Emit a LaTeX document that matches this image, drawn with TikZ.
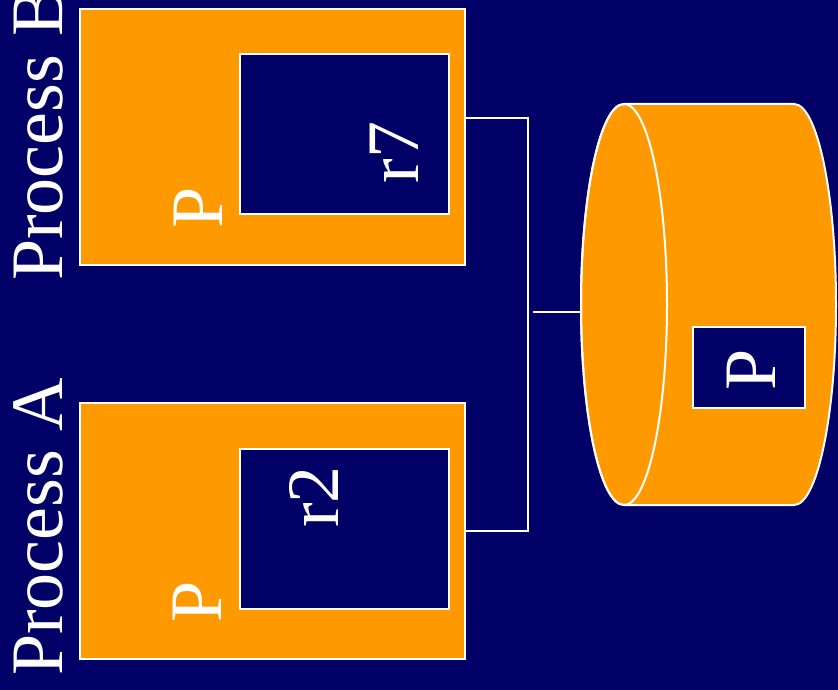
\documentclass[tikz,border=0pt]{standalone}
\usepackage{fontspec}
\setmainfont{Liberation Serif}
\definecolor{navy}{HTML}{000066}
\definecolor{amber}{HTML}{FF9900}
\begin{document}
\begin{tikzpicture}[x=1pt,y=-1pt,
  proc/.style={draw=white, fill=amber, line width=2pt, inner sep=0pt, outer sep=0pt},
  reg/.style={draw=white, fill=navy, line width=2pt, inner sep=0pt, outer sep=0pt},
  lbl/.style={text=white, font=\fontsize{74}{80}\selectfont, inner sep=0pt, rotate=90},
  wire/.style={draw=white, line width=2pt}
]
% backdrop
\fill[navy] (0,0) rectangle (838,690);
\useasboundingbox (0,0) rectangle (838,690);

% process boxes with their register boxes
\node[proc, minimum width=385pt, minimum height=256pt] (boxB) at (272.5,137) {};
\node[reg,  minimum width=209pt, minimum height=160pt] (regB) at (344.5,134) {};
\node[proc, minimum width=385pt, minimum height=256pt] (boxA) at (272.5,531) {};
\node[reg,  minimum width=209pt, minimum height=160pt] (regA) at (344.5,529) {};

% storage drum
\filldraw[draw=white, fill=amber, line width=2pt]
  (624,104) -- (794,104)
  arc[start angle=270, end angle=450, x radius=42, y radius=200.5]
  -- (624,505)
  arc[start angle=90, end angle=270, x radius=43, y radius=200.5] -- cycle;
\draw[white, line width=2pt] (624,304.5) ellipse [x radius=43, y radius=200.5];
\coordinate (drum) at (581,312);
\node[reg, minimum width=112pt, minimum height=81pt] (regD) at (749,367.5) {};

% labels
\node[lbl, anchor=base west] (titleB) at (62,281) {Process B};
\node[lbl, anchor=base west] (titleA) at (62,676) {Process A};
\node[lbl, anchor=base] (pB) at (222,208) {P};
\node[lbl, anchor=base] (rB) at (418,152.5) {r7};
\node[lbl, anchor=base] (pA) at (221,602) {P};
\node[lbl, anchor=base] (rA) at (338,497) {r2};
\node[lbl, anchor=base] (pD) at (775,370) {P};

% connectors
\draw[wire] ([yshift=19pt]boxB.east) -- ++(63,0) |- (boxA.east);
\coordinate (tap) at (533,312);
\draw[wire] (tap) -- (drum);
\end{tikzpicture}
\end{document}
